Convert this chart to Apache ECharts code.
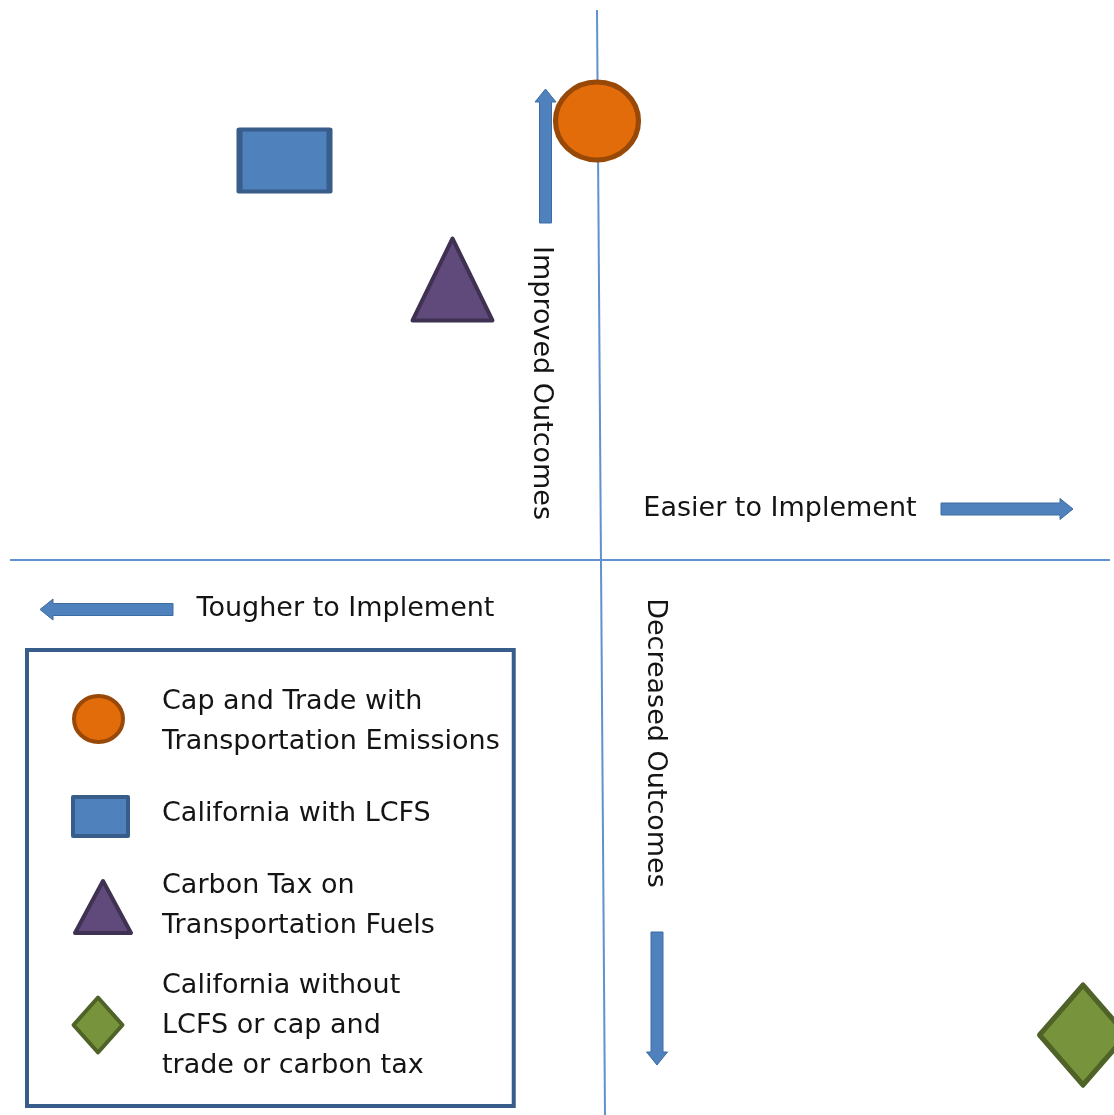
<!DOCTYPE html>
<html>
<head>
<meta charset="utf-8">
<script src="https://cdn.jsdelivr.net/npm/echarts@6/dist/echarts.min.js"></script>
<style>
html,body{margin:0;padding:0;background:#fff;}
#c{width:1114px;height:1115px;}
</style>
</head>
<body>
<div id="c"></div>
<script>
// ---- data ----
const seriesNames = [
  'Cap and Trade with\nTransportation Emissions',
  'California with LCFS',
  'Carbon Tax on\nTransportation Fuels',
  'California without\nLCFS or cap and\ntrade or carbon tax'
];
const xValues = [-0.08, -6.33, -2.97, 9.64];   // ease of implementation
const yValues = [8.78, 7.99, 5.61, -9.5];      // outcomes

const axisLabels = ['Improved Outcomes', 'Easier to Implement', 'Tougher to Implement', 'Decreased Outcomes'];
const axisLabelX = [-1.2, 3.58, -5.11, 1.08];
const axisLabelY = [3.54, 1.02, -0.98, -3.66];

// arrows: [x1, y1, x2, y2]
const arrowStartX = [-1.11, 6.8, -8.56, 1.12];
const arrowStartY = [6.74, 1.02, -0.99, -7.44];
const arrowEndX = [-1.11, 9.44, -11.22, 1.12];
const arrowEndY = [9.42, 1.02, -0.99, -10.1];

// quadrant lines
const vLineX = [-0.08, 0.08];
const vLineY = [11.0, -11.1];
const hLineX = [-11.82, 10.18];
const hLineY = [0, 0];

// ---- styles ----
const fills = ['#e36c0a', '#4f81bd', '#604a7b', '#77933c'];
const borders = ['#984807', '#385d8a', '#3f3151', '#4f6228'];
const borderW = [5, 5, 4, 5];
const symbols = ['circle', 'rect', 'triangle', 'diamond'];
const sizes = [[83, 78], [90, 62], [80, 82], [87, 100]];
const legendIcons = [
  'path://M0,0M90,60M7,27A24.5,23 0 1 0 56,27A24.5,23 0 1 0 7,27Z',
  'path://M0,0M90,60M6,13L61,13L61,52L6,52Z',
  'path://M0,0M90,60M36,5L64,57L8,57Z',
  'path://M0,0M90,60M6.5,29L31,1.5L55.5,29L31,56.5Z'
];
const FONT = 'DejaVu Sans';
const TEXT = '#141414';

const chart = echarts.init(document.getElementById('c'));

const series = [];
series.push({
  type: 'line', data: vLineX.map((x, i) => [x, vLineY[i]]), symbol: 'none',
  lineStyle: {color: '#6291cf', width: 2}, silent: true, z: 1
});
series.push({
  type: 'line', data: hLineX.map((x, i) => [x, hLineY[i]]), symbol: 'none',
  lineStyle: {color: '#6291cf', width: 2}, silent: true, z: 1
});
series.push({
  type: 'custom', z: 2, silent: true,
  encode: {x: [0, 2], y: [1, 3]},
  data: arrowStartX.map((x, i) => [x, arrowStartY[i], arrowEndX[i], arrowEndY[i]]),
  renderItem: function (params, api) {
    const p1 = api.coord([api.value(0), api.value(1)]);
    const p2 = api.coord([api.value(2), api.value(3)]);
    const dx = p2[0] - p1[0], dy = p2[1] - p1[1];
    const len = Math.sqrt(dx * dx + dy * dy);
    const ux = dx / len, uy = dy / len, nx = -uy, ny = ux;
    const sw = 6, hw = 10.5, hl = 13;
    const bx = p2[0] - ux * hl, by = p2[1] - uy * hl;
    const pts = [
      [p1[0] + nx * sw, p1[1] + ny * sw],
      [bx + nx * sw, by + ny * sw],
      [bx + nx * hw, by + ny * hw],
      [p2[0], p2[1]],
      [bx - nx * hw, by - ny * hw],
      [bx - nx * sw, by - ny * sw],
      [p1[0] - nx * sw, p1[1] - ny * sw]
    ];
    return {type: 'polygon', shape: {points: pts},
      style: {fill: '#4f81bd', stroke: '#3d6ca3', lineWidth: 1}};
  }
});
series.push({
  type: 'scatter', symbolSize: 0, z: 3, silent: true,
  itemStyle: {opacity: 1},
  data: axisLabels.map((n, i) => ({
    name: n, value: [axisLabelX[i], axisLabelY[i]],
    label: {rotate: (i === 0 || i === 3) ? -90 : 0}
  })),
  label: {show: true, position: 'inside', formatter: '{b}', color: TEXT, opacity: 1,
    fontFamily: FONT, fontSize: 27, align: 'center', verticalAlign: 'middle'}
});
seriesNames.forEach((n, i) => {
  series.push({
    type: 'scatter', name: n, z: 5,
    symbol: symbols[i], symbolSize: sizes[i],
    itemStyle: {color: fills[i], borderColor: borders[i], borderWidth: borderW[i], borderJoin: 'round', opacity: 1},
    data: [[xValues[i], yValues[i]]]
  });
});

chart.setOption({
  animation: false,
  backgroundColor: '#ffffff',
  grid: {left: 0, right: 0, top: 0, bottom: 0, containLabel: false},
  xAxis: {type: 'value', min: -12.02, max: 10.26, show: false},
  yAxis: {type: 'value', min: -11.1, max: 11.2, show: false},
  legend: {
    orient: 'vertical', left: 27, top: 650, height: 520,
    padding: [32, 14, 20, 38],
    itemGap: 20, itemWidth: 90, itemHeight: 60,
    symbolKeepAspect: false,
    borderColor: '#385d8a', borderWidth: 4,
    backgroundColor: '#ffffff',
    selectedMode: false,
    textStyle: {fontFamily: FONT, fontSize: 27, color: TEXT, lineHeight: 40},
    data: seriesNames.map((n, i) => ({
      name: n, icon: legendIcons[i],
      itemStyle: {color: fills[i], borderColor: borders[i], borderWidth: 4, borderJoin: 'round'}
    }))
  },
  series: series
});
</script>
</body>
</html>
